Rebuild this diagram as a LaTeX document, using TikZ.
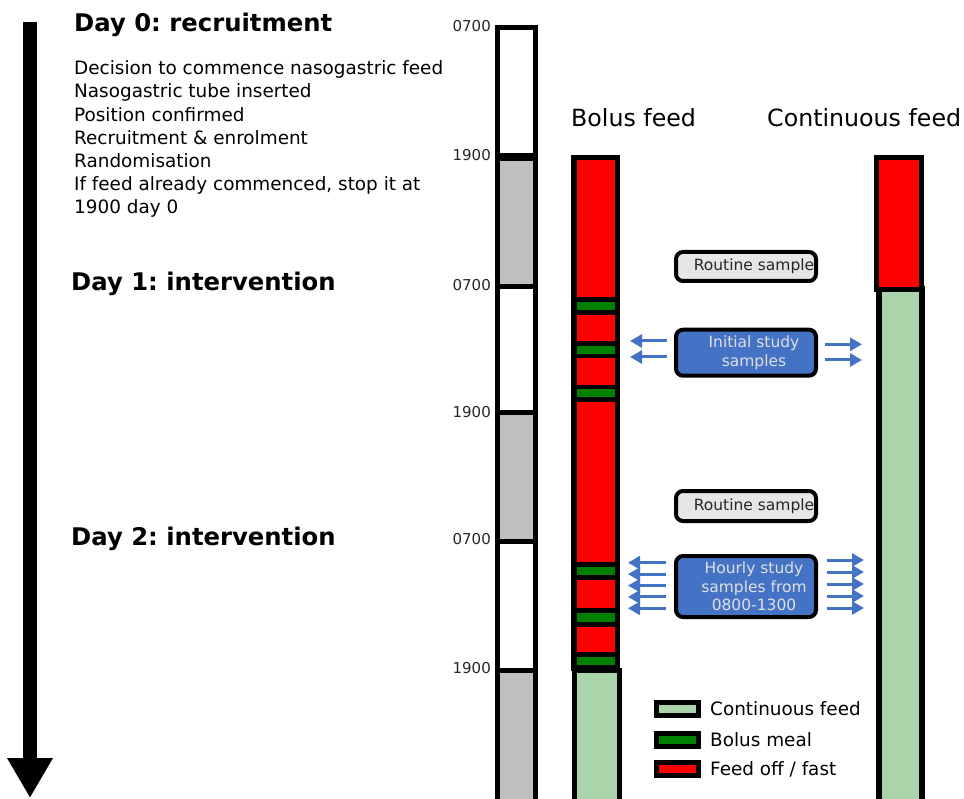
\documentclass[tikz,border=0pt]{standalone}
\usepackage{fontspec}
\setmainfont{DejaVu Sans}
\usetikzlibrary{calc,positioning,arrows.meta}
\frenchspacing

\definecolor{feedoff}{RGB}{255,0,0}
\definecolor{bolus}{RGB}{0,128,0}
\definecolor{contfeed}{RGB}{169,211,169}
\definecolor{night}{RGB}{191,191,191}
\definecolor{routinefill}{RGB}{231,230,230}
\definecolor{studyblue}{RGB}{68,114,196}

\begin{document}
\begin{tikzpicture}[x=1pt,y=-1pt]
\tikzstyle{daytitle}=[anchor=base west, inner sep=0pt, font=\fontsize{24.3}{28}\selectfont\bfseries]
\tikzstyle{armtitle}=[anchor=base west, inner sep=0pt, font=\fontsize{23.7}{28}\selectfont]
\tikzstyle{hour}=[anchor=east, inner sep=0pt, font=\fontsize{15}{17}\selectfont, text=black!85]
\tikzstyle{bar}=[line width=5pt]
\tikzstyle{sample}=[draw, line width=4pt, rounded corners=7pt, minimum width=140pt, inner sep=0pt]
\tikzstyle{samplelabel}=[xshift=8pt, inner sep=0pt, align=center, font=\fontsize{15.5}{18.5}\selectfont]
\tikzstyle{samplearrow}=[studyblue, line width=3pt, -{Triangle[width=13pt,length=12pt]}]
\tikzstyle{key}=[draw, line width=5pt, minimum width=42pt, minimum height=13pt, inner sep=0pt]
\tikzstyle{keytext}=[inner sep=0pt, font=\fontsize{18.4}{20}\selectfont]

\useasboundingbox (0,0) rectangle (964,799);

% Timeline down the left side
\coordinate (start) at (30,22);
\coordinate (finish) at (30,798);
\draw[line width=14pt, -{Triangle[width=43pt,length=40pt]}] (start) -- (finish);

% Day 0: recruitment
\node[daytitle] (day0) at (74,32) {Day 0: recruitment};
\node[anchor=north west, inner sep=0pt, align=left, font=\fontsize{18.4}{23.2}\selectfont] (steps) at (74,60.5) {%
Decision to commence nasogastric feed\\
Nasogastric tube inserted\\
Position confirmed\\
Recruitment \& enrolment\\
Randomisation\\
If feed already commenced, stop it at\\
1900 day 0};

% Day 1 and day 2: intervention
\node[daytitle] (day1) at (71,291) {Day 1: intervention};
\node[daytitle] (day2) at (71,545) {Day 2: intervention};

% Time of day bar
\fill[night] (497.5,157) rectangle (535.5,286.5);
\fill[night] (497.5,413) rectangle (535.5,541);
\fill[night] (497.5,670) rectangle (535.5,805);
\draw[bar] (497.5,805) -- (497.5,27.5) -- (535.5,27.5) -- (535.5,805);
\draw[line width=8pt] (497.5,157) -- (535.5,157);
\foreach \y in {286.5,413,541,670}
  \draw[bar] (497.5,\y) -- (535.5,\y);
\foreach \t/\y in {0700/26,1900/155.5,0700/285.5,1900/412.5,0700/539.5,1900/668.5}
  \node[hour] (h\y) at (491,\y) {\t};

% Bolus feed arm
\node[armtitle] (bolustitle) at (571,127) {Bolus feed};
\fill[black] (571,155) rectangle (620,670.5);
\foreach \a/\b/\c in {160/297/feedoff, 302.5/310/bolus, 315/341/feedoff, 346/354/bolus,
  358.5/385/feedoff, 389/397/bolus, 402.5/562/feedoff, 567/575/bolus,
  580/608/feedoff, 613/621.5/bolus, 626.5/652/feedoff, 656.5/665/bolus}
  \fill[\c] (576.5,\a) rectangle (614.5,\b);
\fill[contfeed] (574.5,670.5) rectangle (619,805);
\draw[bar] (574.5,805) -- (574.5,670.5) -- (619,670.5) -- (619,805);

% Continuous feed arm
\node[armtitle] (conttitle) at (767,127) {Continuous feed};
\fill[contfeed] (878.5,289.5) rectangle (922,805);
\draw[line width=6pt] (878.5,805) -- (878.5,289.5) -- (922,289.5) -- (922,805);
\draw[bar, fill=feedoff] (876.5,157.5) rectangle (921.5,289.5);

% Samples
\node[sample, fill=routinefill, minimum height=29pt,
  label={[samplelabel, text=black!85]center:Routine sample}] (routine1) at (746,266.5) {};
\node[sample, fill=studyblue, minimum height=46pt,
  label={[samplelabel, text=white!88!black]center:{Initial study\\samples}}] (initial) at (746,352.7) {};
\node[sample, fill=routinefill, minimum height=30pt,
  label={[samplelabel, text=black!85]center:Routine sample}] (routine2) at (746,506) {};
\node[sample, fill=studyblue, minimum height=61pt,
  label={[samplelabel, text=white!88!black]center:{Hourly study\\samples from\\0800-1300}}] (hourly) at (746,586.5) {};

% arrows towards both arms
\foreach \dy in {-11.7,4.3}
  \draw[samplearrow] ($(initial.west)+(-7,\dy)$) -- ++(-37,0);
\foreach \dy in {-8.4,7.3}
  \draw[samplearrow] ($(initial.east)+(7,\dy)$) -- ++(37,0);
\foreach \k in {0,...,4} {
  \draw[samplearrow] ($(hourly.west)+(-8,-23.8+11.4*\k)$) -- ++(-38,0);
  \draw[samplearrow] ($(hourly.east)+(8.5,-26.5+12*\k)$) -- ++(37.5,0);
}

% Legend
\node[key, fill=contfeed] (keycont) at (677.5,709) {};
\node[key, fill=bolus] (keybolus) at (677.5,740) {};
\node[key, fill=feedoff] (keyoff) at (677.5,769) {};
\node[keytext, right=9pt of keycont] (labcont) {Continuous feed};
\node[keytext, right=9pt of keybolus] (labbolus) {Bolus meal};
\node[keytext, right=9pt of keyoff] (laboff) {Feed off / fast};

\end{tikzpicture}
\end{document}
